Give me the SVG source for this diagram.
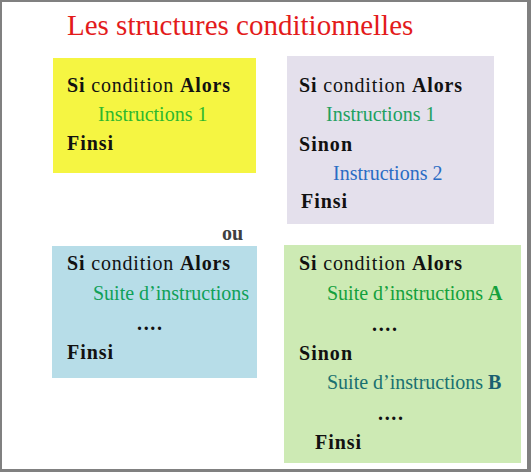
<svg xmlns="http://www.w3.org/2000/svg" width="531" height="472" viewBox="0 0 531 472">
<style>
text{font-size:20px;fill:#111}
.b{font-weight:bold}
.t{font-size:29px;fill:#e31b1b}
</style>
<rect x="0" y="0" width="531" height="472" fill="#808080"/>
<rect x="2" y="2" width="525" height="467" fill="#ffffff"/>
<g font-family="Liberation Serif, DejaVu Serif, serif">
<text class="t" x="67" y="35">Les structures conditionnelles</text>
<g id="box1">
<rect x="53" y="58" width="203" height="115" fill="#f5f542"/>
<text x="67" y="92" textLength="163"><tspan class="b">Si</tspan> condition <tspan class="b">Alors</tspan></text>
<text x="98" y="121" style="fill:#2db82d">Instructions 1</text>
<text x="67" y="150" class="b" textLength="46">Finsi</text>
</g>
<g id="box2">
<rect x="287" y="56" width="207" height="168" fill="#e4e0ec"/>
<text x="299" y="92" textLength="163"><tspan class="b">Si</tspan> condition <tspan class="b">Alors</tspan></text>
<text x="326" y="121" style="fill:#20a060">Instructions 1</text>
<text x="299" y="151" class="b" textLength="53">Sinon</text>
<text x="333" y="180" style="fill:#2a6cc4">Instructions 2</text>
<text x="301" y="208" class="b" textLength="46">Finsi</text>
</g>
<text x="222" y="240" class="b" style="fill:#404040">ou</text>
<g id="box3">
<rect x="52" y="246" width="205" height="132" fill="#b7dde8"/>
<text x="67" y="270" textLength="163"><tspan class="b">Si</tspan> condition <tspan class="b">Alors</tspan></text>
<text x="93" y="300" style="fill:#10a058">Suite d’instructions</text>
<text x="137" y="330" class="b" textLength="25">....</text>
<text x="67" y="359" class="b" textLength="46">Finsi</text>
</g>
<g id="box4">
<rect x="284" y="245" width="237" height="218" fill="#cdeab4"/>
<text x="299" y="270" textLength="163"><tspan class="b">Si</tspan> condition <tspan class="b">Alors</tspan></text>
<text x="327" y="300" style="fill:#14a03c">Suite d’instructions <tspan class="b">A</tspan></text>
<text x="372" y="331" class="b" textLength="25">....</text>
<text x="299" y="360" class="b" textLength="53">Sinon</text>
<text x="327" y="389" style="fill:#1a7070">Suite d’instructions <tspan class="b" style="fill:#1a6070">B</tspan></text>
<text x="378" y="420" class="b" textLength="25">....</text>
<text x="315" y="449" class="b" textLength="46">Finsi</text>
</g>
</g>
</svg>
